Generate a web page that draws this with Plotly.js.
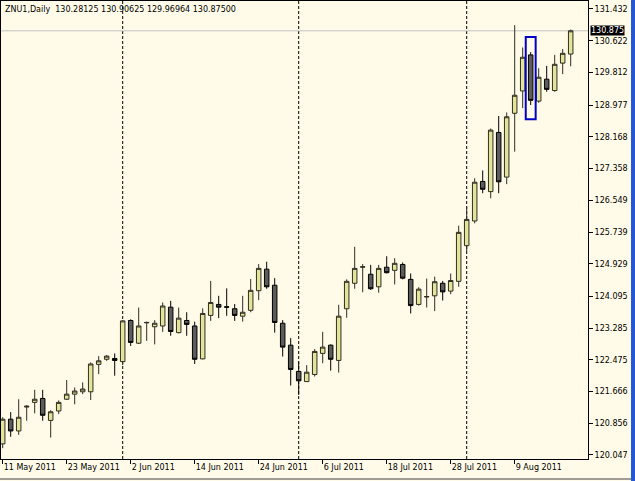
<!DOCTYPE html>
<html><head><meta charset="utf-8">
<script src="https://cdn.plot.ly/plotly-3.0.1.min.js"></script>
<style>html,body{margin:0;padding:0;background:#FFFBE8;overflow:hidden}</style>
</head><body><div id="chart" style="width:635px;height:481px"></div>
<script>
const symbol = 'ZNU1';
const timeframe = 'Daily';
const dates = ['2011-05-11','2011-05-12','2011-05-13','2011-05-16','2011-05-17','2011-05-18','2011-05-19','2011-05-20',
'2011-05-23','2011-05-24','2011-05-25','2011-05-26','2011-05-27','2011-05-30','2011-05-31','2011-06-01',
'2011-06-02','2011-06-03','2011-06-06','2011-06-07','2011-06-08','2011-06-09','2011-06-10','2011-06-13',
'2011-06-14','2011-06-15','2011-06-16','2011-06-17','2011-06-20','2011-06-21','2011-06-22','2011-06-23',
'2011-06-24','2011-06-27','2011-06-28','2011-06-29','2011-06-30','2011-07-01','2011-07-04','2011-07-05',
'2011-07-06','2011-07-07','2011-07-08','2011-07-11','2011-07-12','2011-07-13','2011-07-14','2011-07-15',
'2011-07-18','2011-07-19','2011-07-20','2011-07-21','2011-07-22','2011-07-25','2011-07-26','2011-07-27',
'2011-07-28','2011-07-29','2011-08-01','2011-08-02','2011-08-03','2011-08-04','2011-08-05','2011-08-08',
'2011-08-09','2011-08-10','2011-08-11','2011-08-12','2011-08-15','2011-08-16','2011-08-17','2011-08-18'];
const open = [120.33,120.96,120.66,121.27,121.39,121.49,120.93,121.17,121.47,121.60,121.66,121.66,122.36,122.49,122.51,122.43,
123.48,122.90,123.42,123.32,123.34,123.82,123.17,123.48,123.34,122.50,123.61,123.89,123.83,123.78,123.59,123.74,
124.24,124.79,124.38,123.41,122.85,122.18,121.92,122.10,122.64,122.85,122.46,123.78,124.43,124.84,124.66,124.34,
124.84,124.76,124.91,124.53,123.89,124.08,124.11,124.43,124.23,124.48,125.39,126.02,127.03,126.77,128.28,127.14,
128.77,129.34,130.26,129.08,129.64,129.35,130.05,130.28125];
const high = [121.01,121.14,121.47,121.32,121.71,121.71,121.19,121.44,121.96,121.77,121.90,122.41,122.57,122.60,122.64,123.49,
123.51,123.81,123.45,123.49,123.94,123.98,123.81,123.69,123.45,123.79,124.49,124.11,124.30,123.90,124.11,124.54,
124.92,124.98,124.56,123.49,123.03,122.43,122.34,122.75,123.19,122.87,123.88,124.53,125.36,124.92,124.90,124.90,
125.12,125.07,124.96,124.68,124.33,124.55,124.60,124.49,124.68,125.90,126.39,127.11,127.31,128.38,128.70,128.79,
131.02,130.45,130.33,129.92,129.98,130.26,130.41,130.90625];
const low = [120.22,120.51,120.56,120.92,121.11,120.92,120.49,121.09,121.45,121.34,121.60,121.45,122.11,122.45,122.07,122.34,
122.83,122.88,122.96,122.87,123.19,123.09,123.15,123.09,122.37,122.49,123.47,123.54,123.60,123.47,123.45,123.69,
124.00,124.29,123.17,122.56,121.82,121.58,121.91,122.05,122.39,122.20,122.15,123.55,124.29,124.20,124.26,124.19,
124.68,124.40,124.53,123.66,123.86,123.81,123.72,123.99,124.15,124.34,125.24,125.96,126.73,126.60,126.73,126.96,
127.79,128.90,128.98,129.04,129.32,129.32,129.77,129.96964];
const close = [120.96,120.66,121.01,121.29,121.47,121.06,121.15,121.39,121.60,121.68,121.73,122.37,122.45,122.57,122.46,123.47,
122.92,123.34,123.43,123.41,123.85,123.20,123.54,123.38,122.49,123.66,123.94,123.82,123.82,123.61,123.69,124.25,
124.81,124.34,123.43,122.80,122.23,121.94,122.16,122.69,122.80,122.49,123.59,124.48,124.81,124.85,124.29,124.81,
124.70,124.94,124.56,123.86,124.28,124.09,124.47,124.21,124.50,125.73,126.06,127.01,126.83,128.34,127.02,128.68,
129.23,130.20,129.10,129.69,129.38,130.02,130.30,130.875];
const xTickDates = ['2011-05-11','2011-05-23','2011-06-02','2011-06-14','2011-06-24','2011-07-06','2011-07-18','2011-07-28','2011-08-09'];
const xTickLabels = ['11 May 2011','23 May 2011','2 Jun 2011','14 Jun 2011','24 Jun 2011','6 Jul 2011','18 Jul 2011','28 Jul 2011','9 Aug 2011'];
const yTickVals = [120.047,120.856,121.666,122.475,123.285,124.095,124.929,125.739,126.549,127.358,128.168,128.977,129.812,130.622,131.432];
const selectedDate = '2011-08-11';

const BG = '#FFFBE8';
const BULL = '#E3E39A';
const BEAR = '#5C5C5C';
const FONT = 'DejaVu Sans, Verdana, sans-serif';

const last = close.length - 1;
const shapes = [];
// month separators
for (let i = 1; i < dates.length; i++) {
  if (dates[i].slice(5,7) !== dates[i-1].slice(5,7)) {
    shapes.push({type:'line', xref:'x', yref:'paper', x0:i, x1:i, y0:0, y1:1, layer:'below',
      line:{color:'#000', width:1, dash:'3px,2px'}});
  }
}
// bid line
shapes.push({type:'line', xref:'paper', yref:'y', x0:0, x1:1, y0:close[last], y1:close[last], layer:'below',
  line:{color:'#C0C0C0', width:1}});
// selection box
const si = dates.indexOf(selectedDate);
shapes.push({type:'rect', xref:'x', yref:'y', x0:si-0.62, x1:si+0.62, y0:low[si]-0.36, y1:high[si]+0.39,
  line:{color:'#0000C8', width:2}, fillcolor:'rgba(0,0,0,0)'});
// window frame on the right & bottom line
shapes.push({type:'rect', xref:'paper', yref:'paper', x0:1.0733, x1:1.09, y0:-0.2, y1:1.2,
  line:{width:0}, fillcolor:'#2457D6'});
shapes.push({type:'line', xref:'paper', yref:'paper', x0:-0.01, x1:1.0733, y0:-0.0437, y1:-0.0437,
  line:{color:'#404040', width:1}});

const annotations = [
  {xref:'paper', yref:'paper', x:0.004, y:0.981, xanchor:'left', yanchor:'middle', showarrow:false,
   text: symbol + ',' + timeframe + '\u00a0\u00a0' + [open[last],high[last],low[last],close[last]].map(v=>v.toFixed(5)).join(' '),
   font:{family:FONT, size:8, color:'#000'}},
  {xref:'paper', yref:'y', x:1.0034, y:close[last], xanchor:'left', yanchor:'middle', showarrow:false,
   text: close[last].toFixed(3), bgcolor:'#000', borderpad:0,
   font:{family:FONT, size:8, color:'#fff'}}
];

const trace = {
  type:'candlestick', x:dates, open:open, high:high, low:low, close:close,
  increasing:{fillcolor:BULL, line:{color:'#2E2E22', width:1}},
  decreasing:{fillcolor:BEAR, line:{color:'#000000', width:1}},
  whiskerwidth:0, hoverinfo:'skip', showlegend:false
};

const layout = {
  width:635, height:481, margin:{l:1, r:47, t:1, b:22},
  paper_bgcolor:BG, plot_bgcolor:BG,
  boxgap:0.25, boxgroupgap:0.25,
  showlegend:false,
  xaxis:{type:'category', range:[-0.2125, 73.1625], rangeslider:{visible:false},
    tickmode:'array', tickvals:xTickDates, ticktext:xTickLabels,
    ticks:'outside', ticklen:4, tickwidth:1, tickcolor:'#000', ticklabelposition:'outside right',
    showgrid:false, zeroline:false, showline:true, linecolor:'#000', linewidth:1, mirror:true,
    tickfont:{family:FONT, size:8, color:'#000'}, fixedrange:true},
  yaxis:{side:'right', range:[119.944, 131.636], tickmode:'array', tickvals:yTickVals,
    ticktext:yTickVals.map(v=>v.toFixed(3)),
    ticks:'outside', ticklen:4, tickwidth:1, tickcolor:'#000',
    showgrid:false, zeroline:false, showline:true, linecolor:'#000', linewidth:1, mirror:true,
    tickfont:{family:FONT, size:8, color:'#000'}, fixedrange:true},
  shapes:shapes, annotations:annotations
};

Plotly.newPlot('chart', [trace], layout, {staticPlot:true, displayModeBar:false});
</script></body></html>
